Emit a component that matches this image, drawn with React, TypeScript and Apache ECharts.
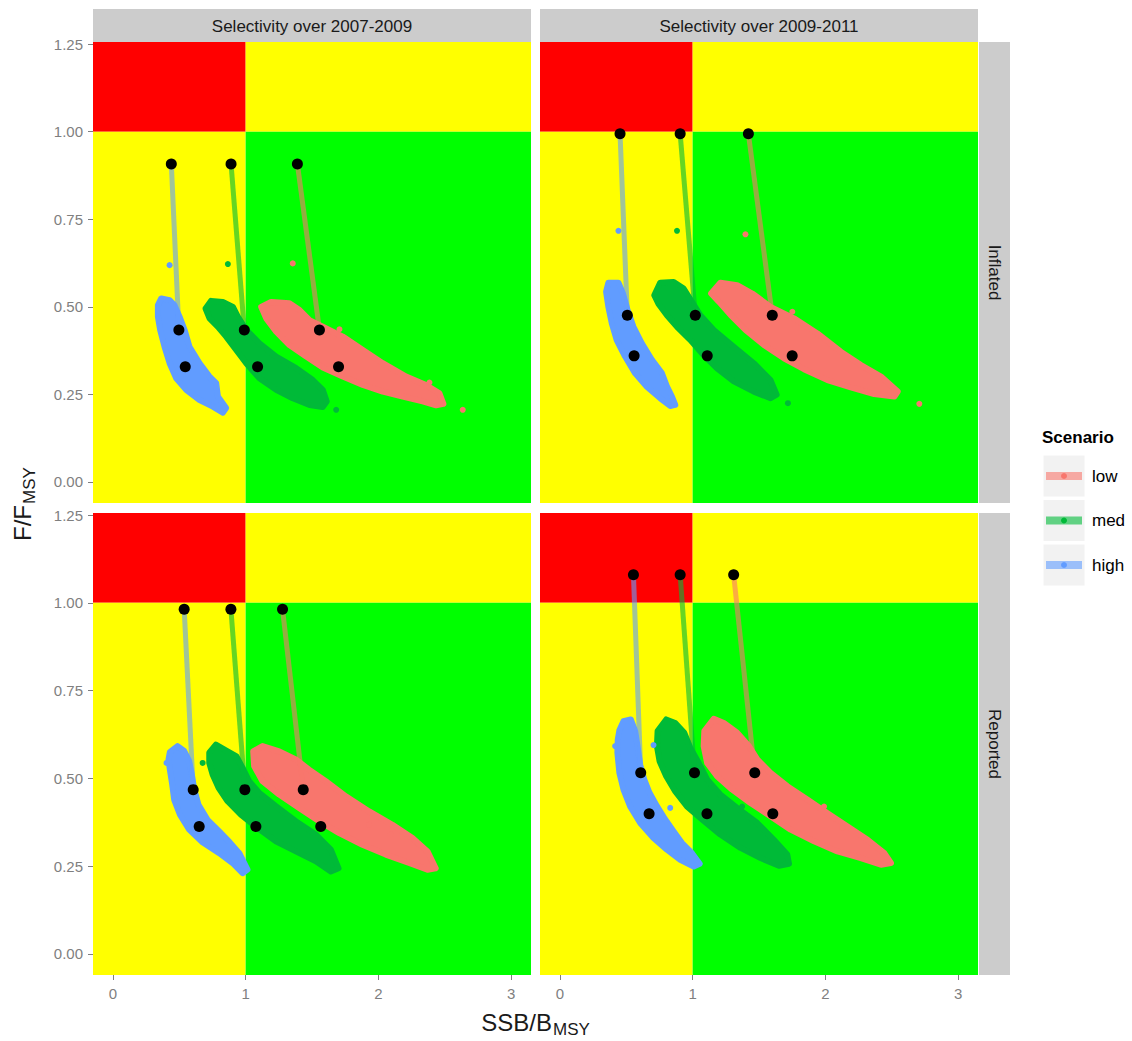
import React, { useEffect, useRef } from 'react';
import * as echarts from 'echarts';

const FONT = '"Liberation Sans", Arial, Helvetica, sans-serif';

const SCENARIOS = ['low', 'med', 'high'];
const SCENARIO_COLORS: Record<string, string> = { low: '#F8766D', med: '#00BA38', high: '#619CFF' };
const PERIODS = ['Selectivity over 2007-2009', 'Selectivity over 2009-2011'];
const CATCH_TYPES = ['Inflated', 'Reported'];
const X_TICKS = [0, 1, 2, 3];
const Y_TICKS = [0, 0.25, 0.5, 0.75, 1, 1.25];
const X_RANGE = [-0.15, 3.15];
const Y_RANGE = [-0.06, 1.256];
const SSB_REF = 1;
const F_REF = 1;

// Trajectory points [SSB/Bmsy, F/Fmsy]: start, projection 1, projection 2
const TRAJ_0709_INF: Record<string, number[][]> = {
  low: [[1.39, 0.908], [1.556, 0.434], [1.70, 0.329]],
  med: [[0.89, 0.908], [0.99, 0.434], [1.09, 0.329]],
  high: [[0.44, 0.908], [0.497, 0.434], [0.545, 0.329]],
};
const TRAJ_0911_INF: Record<string, number[][]> = {
  low: [[1.42, 0.994], [1.60, 0.476], [1.75, 0.36]],
  med: [[0.906, 0.994], [1.02, 0.476], [1.11, 0.36]],
  high: [[0.453, 0.994], [0.508, 0.476], [0.559, 0.36]],
};
const TRAJ_0709_REP: Record<string, number[][]> = {
  low: [[1.278, 0.982], [1.434, 0.468], [1.566, 0.363]],
  med: [[0.889, 0.982], [0.994, 0.468], [1.077, 0.363]],
  high: [[0.537, 0.982], [0.605, 0.468], [0.65, 0.363]],
};
const TRAJ_0911_REP: Record<string, number[][]> = {
  low: [[1.309, 1.08], [1.468, 0.516], [1.604, 0.399]],
  med: [[0.906, 1.08], [1.014, 0.516], [1.108, 0.399]],
  high: [[0.554, 1.08], [0.609, 0.516], [0.672, 0.399]],
};

// Outline of the dense simulation clouds [SSB/Bmsy, F/Fmsy]
const CLOUD_0709_INF: Record<string, number[][]> = {
  high: [[0.339, 0.505], [0.364, 0.524], [0.427, 0.519], [0.464, 0.505], [0.502, 0.472], [0.54, 0.434], [0.577, 0.386], [0.653, 0.339], [0.728, 0.301], [0.778, 0.282], [0.791, 0.244], [0.853, 0.211], [0.828, 0.198], [0.753, 0.215], [0.653, 0.234], [0.552, 0.263], [0.477, 0.296], [0.427, 0.339], [0.389, 0.386], [0.356, 0.434], [0.339, 0.472]],
  med: [[0.698, 0.495], [0.74, 0.517], [0.828, 0.514], [0.904, 0.5], [0.941, 0.472], [1.004, 0.434], [1.104, 0.396], [1.23, 0.358], [1.381, 0.325], [1.506, 0.291], [1.581, 0.263], [1.611, 0.23], [1.581, 0.214], [1.481, 0.22], [1.355, 0.239], [1.23, 0.263], [1.104, 0.296], [1.004, 0.339], [0.929, 0.377], [0.853, 0.415], [0.791, 0.443], [0.728, 0.467]],
  low: [[1.117, 0.5], [1.192, 0.514], [1.33, 0.51], [1.406, 0.491], [1.481, 0.462], [1.581, 0.443], [1.732, 0.415], [1.883, 0.377], [2.033, 0.339], [2.209, 0.301], [2.359, 0.277], [2.46, 0.253], [2.49, 0.223], [2.435, 0.219], [2.334, 0.23], [2.184, 0.244], [2.033, 0.258], [1.883, 0.277], [1.732, 0.301], [1.581, 0.327], [1.456, 0.358], [1.33, 0.391], [1.23, 0.429], [1.155, 0.467]],
};
const CLOUD_0911_INF: Record<string, number[][]> = {
  high: [[0.348, 0.543], [0.365, 0.569], [0.441, 0.569], [0.474, 0.539], [0.509, 0.492], [0.554, 0.443], [0.617, 0.396], [0.693, 0.349], [0.768, 0.311], [0.806, 0.273], [0.844, 0.244], [0.869, 0.22], [0.831, 0.217], [0.756, 0.239], [0.655, 0.272], [0.567, 0.31], [0.491, 0.358], [0.428, 0.405], [0.391, 0.453], [0.365, 0.5]],
  med: [[0.711, 0.533], [0.756, 0.569], [0.857, 0.571], [0.932, 0.552], [0.995, 0.514], [1.058, 0.476], [1.159, 0.434], [1.31, 0.386], [1.461, 0.339], [1.587, 0.291], [1.633, 0.249], [1.587, 0.239], [1.461, 0.258], [1.31, 0.287], [1.184, 0.324], [1.083, 0.362], [0.983, 0.405], [0.882, 0.443], [0.806, 0.476], [0.743, 0.508]],
  low: [[1.139, 0.538], [1.209, 0.569], [1.335, 0.562], [1.449, 0.538], [1.587, 0.5], [1.764, 0.467], [1.94, 0.424], [2.116, 0.372], [2.268, 0.334], [2.419, 0.301], [2.545, 0.258], [2.52, 0.244], [2.368, 0.251], [2.192, 0.27], [2.016, 0.291], [1.839, 0.322], [1.688, 0.353], [1.537, 0.391], [1.398, 0.434], [1.285, 0.477], [1.197, 0.515]],
};
const CLOUD_0709_REP: Record<string, number[][]> = {
  high: [[0.429, 0.575], [0.487, 0.592], [0.537, 0.578], [0.575, 0.549], [0.595, 0.51], [0.613, 0.468], [0.645, 0.425], [0.713, 0.382], [0.801, 0.349], [0.876, 0.32], [0.952, 0.287], [1.014, 0.24], [0.977, 0.23], [0.901, 0.259], [0.801, 0.287], [0.675, 0.318], [0.575, 0.354], [0.505, 0.397], [0.462, 0.439], [0.445, 0.487], [0.429, 0.525], [0.419, 0.554]],
  med: [[0.726, 0.573], [0.776, 0.596], [0.851, 0.58], [0.931, 0.563], [0.977, 0.53], [1.027, 0.492], [1.102, 0.459], [1.228, 0.421], [1.378, 0.378], [1.529, 0.34], [1.642, 0.297], [1.7, 0.244], [1.642, 0.235], [1.529, 0.264], [1.378, 0.292], [1.228, 0.321], [1.089, 0.359], [0.964, 0.397], [0.864, 0.435], [0.796, 0.473], [0.751, 0.511], [0.726, 0.544]],
  low: [[1.057, 0.577], [1.127, 0.592], [1.253, 0.577], [1.378, 0.554], [1.478, 0.525], [1.604, 0.492], [1.755, 0.449], [1.931, 0.406], [2.106, 0.368], [2.257, 0.33], [2.37, 0.292], [2.432, 0.244], [2.37, 0.24], [2.232, 0.259], [2.056, 0.283], [1.88, 0.311], [1.705, 0.344], [1.554, 0.378], [1.403, 0.416], [1.253, 0.454], [1.127, 0.492], [1.064, 0.535]],
};
const CLOUD_0911_REP: Record<string, number[][]> = {
  high: [[0.448, 0.637], [0.479, 0.663], [0.534, 0.668], [0.567, 0.635], [0.585, 0.592], [0.605, 0.539], [0.635, 0.497], [0.675, 0.459], [0.731, 0.421], [0.794, 0.383], [0.857, 0.349], [0.92, 0.316], [0.995, 0.287], [1.053, 0.257], [1.008, 0.249], [0.907, 0.268], [0.806, 0.297], [0.705, 0.33], [0.605, 0.373], [0.529, 0.42], [0.479, 0.468], [0.448, 0.516], [0.433, 0.573], [0.436, 0.611]],
  med: [[0.736, 0.635], [0.801, 0.668], [0.869, 0.658], [0.937, 0.63], [0.983, 0.587], [1.046, 0.544], [1.109, 0.497], [1.209, 0.454], [1.335, 0.416], [1.487, 0.373], [1.612, 0.325], [1.713, 0.283], [1.726, 0.257], [1.65, 0.251], [1.512, 0.273], [1.361, 0.302], [1.209, 0.34], [1.071, 0.383], [0.957, 0.42], [0.869, 0.463], [0.801, 0.506], [0.751, 0.549], [0.731, 0.592]],
  low: [[1.088, 0.635], [1.159, 0.67], [1.235, 0.658], [1.335, 0.63], [1.424, 0.592], [1.487, 0.554], [1.587, 0.516], [1.713, 0.478], [1.864, 0.44], [2.016, 0.401], [2.167, 0.363], [2.318, 0.325], [2.444, 0.287], [2.494, 0.259], [2.419, 0.254], [2.268, 0.273], [2.091, 0.292], [1.915, 0.321], [1.738, 0.354], [1.587, 0.392], [1.436, 0.43], [1.298, 0.468], [1.184, 0.506], [1.109, 0.544], [1.083, 0.592]],
};

// Isolated simulation points outside the dense clouds
const OUTLIERS_0709_INF: Record<string, number[][]> = {
  high: [[0.427, 0.619]],
  med: [[0.866, 0.622], [1.682, 0.206]],
  low: [[1.355, 0.624], [1.707, 0.436], [2.636, 0.206], [2.385, 0.284]],
};
const OUTLIERS_0911_INF: Record<string, number[][]> = {
  high: [[0.441, 0.717]],
  med: [[0.882, 0.717], [1.718, 0.225]],
  low: [[1.398, 0.707], [1.751, 0.486], [2.708, 0.223]],
};
const OUTLIERS_0709_REP: Record<string, number[][]> = {
  high: [[0.404, 0.544]],
  med: [[0.676, 0.544]],
  low: [[1.931, 0.368], [2.093, 0.34]],
};
const OUTLIERS_0911_REP: Record<string, number[][]> = {
  high: [[0.416, 0.592], [0.705, 0.595], [0.831, 0.416]],
  med: [[1.373, 0.42]],
  low: [[1.99, 0.42], [2.129, 0.359]],
};

const PANELS = [
  { col: 0, row: 0, traj: TRAJ_0709_INF, cloud: CLOUD_0709_INF, out: OUTLIERS_0709_INF },
  { col: 1, row: 0, traj: TRAJ_0911_INF, cloud: CLOUD_0911_INF, out: OUTLIERS_0911_INF },
  { col: 0, row: 1, traj: TRAJ_0709_REP, cloud: CLOUD_0709_REP, out: OUTLIERS_0709_REP },
  { col: 1, row: 1, traj: TRAJ_0911_REP, cloud: CLOUD_0911_REP, out: OUTLIERS_0911_REP },
];

const ZONE_FILLS = ['#FF0000', '#FFFF00', '#FFFF00', '#00FF00'];

// layout
const COL_LEFT = [93, 540];
const ROW_TOP = [42, 513];
const PANEL_W = 438;
const ROW_H = [461, 462];
const STRIP_TOP = 9;
const STRIP_RIGHT_X = 979;
const STRIP_W = 31;

function hexA(hex: string, a: number) {
  const n = parseInt(hex.slice(1), 16);
  return `rgba(${(n >> 16) & 255},${(n >> 8) & 255},${n & 255},${a})`;
}

// axis title with subscript: main text ends at joinX, subscript starts there, lowered
function subTitle(main: string, sub: string, x: number, y: number, rotation: number, joinX: number) {
  return {
    type: 'group', x, y, rotation, silent: true,
    children: [
      { type: 'text', x: joinX, y: 0, style: { text: main, fontSize: 24, fontFamily: FONT, fill: '#1A1A1A', textAlign: 'right', textVerticalAlign: 'middle' } },
      { type: 'text', x: joinX + 1, y: 7, style: { text: sub, fontSize: 17, fontFamily: FONT, fill: '#1A1A1A', textAlign: 'left', textVerticalAlign: 'middle' } },
    ],
  };
}

export default function App() {
  const ref = useRef<HTMLDivElement>(null);
  useEffect(() => {
    if (!ref.current) return;
    const chart = echarts.init(ref.current, undefined, { renderer: 'svg' });

    const zones = [
      [X_RANGE[0], SSB_REF, F_REF, Y_RANGE[1]],
      [SSB_REF, X_RANGE[1], F_REF, Y_RANGE[1]],
      [X_RANGE[0], SSB_REF, Y_RANGE[0], F_REF],
      [SSB_REF, X_RANGE[1], Y_RANGE[0], F_REF],
    ];

    const grid: any[] = [];
    const xAxis: any[] = [];
    const yAxis: any[] = [];
    const series: any[] = [];

    PANELS.forEach((p, i) => {
      grid.push({ left: COL_LEFT[p.col], top: ROW_TOP[p.row], width: PANEL_W, height: ROW_H[p.row] });
      xAxis.push({
        type: 'value', gridIndex: i, min: X_RANGE[0], max: X_RANGE[1], position: 'bottom',
        axisLine: { show: false, onZero: false }, splitLine: { show: false },
        axisTick: { show: p.row === 1, customValues: X_TICKS, length: 5, lineStyle: { color: '#7F7F7F', width: 1 } },
        axisLabel: { show: p.row === 1, customValues: X_TICKS, color: '#7F7F7F', fontSize: 15, fontFamily: FONT, margin: 11, formatter: (v: number) => String(v) },
      });
      yAxis.push({
        type: 'value', gridIndex: i, min: Y_RANGE[0], max: Y_RANGE[1], position: 'left',
        axisLine: { show: false, onZero: false }, splitLine: { show: false },
        axisTick: { show: p.col === 0, customValues: Y_TICKS, length: 5, lineStyle: { color: '#7F7F7F', width: 1 } },
        axisLabel: { show: p.col === 0, customValues: Y_TICKS, color: '#7F7F7F', fontSize: 15, fontFamily: FONT, margin: 10, formatter: (v: number) => v.toFixed(2) },
      });
      series.push({
        type: 'custom', xAxisIndex: i, yAxisIndex: i, z: 0, silent: true,
        data: zones, encode: { x: [0, 1], y: [2, 3] },
        renderItem: (params: any, api: any) => {
          const a = api.coord([api.value(0), api.value(3)]);
          const b = api.coord([api.value(1), api.value(2)]);
          return { type: 'rect', shape: { x: a[0], y: a[1], width: b[0] - a[0], height: b[1] - a[1] }, style: { fill: ZONE_FILLS[params.dataIndex] } };
        },
      });
      ['high', 'med', 'low'].forEach((s) => {
        const pts = p.cloud[s];
        const c = SCENARIO_COLORS[s];
        series.push({
          type: 'custom', xAxisIndex: i, yAxisIndex: i, z: 1, silent: true,
          data: pts, encode: { x: 0, y: 1 },
          renderItem: (params: any, api: any) => {
            if (params.dataIndex !== 0) return null;
            return {
              type: 'polygon',
              shape: { points: pts.map((q) => api.coord(q)) },
              style: { fill: c, stroke: c, lineWidth: 6, lineJoin: 'round' },
            };
          },
        });
        series.push({
          type: 'scatter', xAxisIndex: i, yAxisIndex: i, z: 2, silent: true,
          data: p.out[s], symbolSize: 6, itemStyle: { color: c, opacity: 1 },
        });
      });
      SCENARIOS.forEach((s) => {
        series.push({
          type: 'line', xAxisIndex: i, yAxisIndex: i, z: 3, silent: true,
          data: p.traj[s].slice(0, 2), symbol: 'none',
          lineStyle: { color: SCENARIO_COLORS[s], width: 5, opacity: 0.6 },
        });
      });
      series.push({
        type: 'scatter', xAxisIndex: i, yAxisIndex: i, z: 4, silent: true,
        data: SCENARIOS.flatMap((s) => p.traj[s]), symbolSize: 11,
        itemStyle: { color: '#000000', opacity: 1 },
      });
    });

    const graphic: any[] = [];
    PERIODS.forEach((t, c) => {
      graphic.push({ type: 'rect', shape: { x: COL_LEFT[c], y: STRIP_TOP, width: PANEL_W, height: ROW_TOP[0] - STRIP_TOP }, style: { fill: '#CCCCCC' }, silent: true });
      graphic.push({ type: 'text', x: COL_LEFT[c] + PANEL_W / 2, y: (STRIP_TOP + ROW_TOP[0]) / 2 + 1, silent: true,
        style: { text: t, fontSize: 17, fontFamily: FONT, fill: '#1A1A1A', textAlign: 'center', textVerticalAlign: 'middle' } });
    });
    CATCH_TYPES.forEach((t, r) => {
      graphic.push({ type: 'rect', shape: { x: STRIP_RIGHT_X, y: ROW_TOP[r], width: STRIP_W, height: ROW_H[r] }, style: { fill: '#CCCCCC' }, silent: true });
      graphic.push({ type: 'text', x: STRIP_RIGHT_X + STRIP_W / 2, y: ROW_TOP[r] + ROW_H[r] / 2, rotation: -Math.PI / 2, silent: true,
        style: { text: t, fontSize: 17, fontFamily: FONT, fill: '#1A1A1A', textAlign: 'center', textVerticalAlign: 'middle' } });
    });
    // axis titles
    graphic.push(subTitle('SSB/B', 'MSY', 535, 1022, 0, 17));
    graphic.push(subTitle('F/F', 'MSY', 22, 505, Math.PI / 2, 0));
    // legend
    graphic.push({ type: 'text', x: 1042, y: 437, silent: true,
      style: { text: 'Scenario', fontSize: 17, fontWeight: 'bold', fontFamily: FONT, fill: '#000', textAlign: 'left', textVerticalAlign: 'middle' } });
    SCENARIOS.forEach((s, k) => {
      const top = 455 + k * 44.5;
      const cy = top + 21;
      const c = SCENARIO_COLORS[s];
      graphic.push({ type: 'rect', shape: { x: 1043, y: top, width: 42, height: 42 }, style: { fill: '#F2F2F2', stroke: '#FFFFFF', lineWidth: 1 }, silent: true });
      graphic.push({ type: 'line', shape: { x1: 1046, y1: cy, x2: 1082, y2: cy }, style: { stroke: hexA(c, 0.6), lineWidth: 8 }, silent: true });
      graphic.push({ type: 'circle', shape: { cx: 1064, cy, r: 3 }, style: { fill: c }, silent: true });
      graphic.push({ type: 'text', x: 1092, y: cy, silent: true,
        style: { text: s, fontSize: 17, fontFamily: FONT, fill: '#000', textAlign: 'left', textVerticalAlign: 'middle' } });
    });

    chart.setOption({ animation: false, grid, xAxis, yAxis, series, graphic });
    return () => chart.dispose();
  }, []);
  return <div ref={ref} style={{ position: 'absolute', left: 0, top: 0, width: 1132, height: 1041, background: '#FFFFFF' }} />;
}
